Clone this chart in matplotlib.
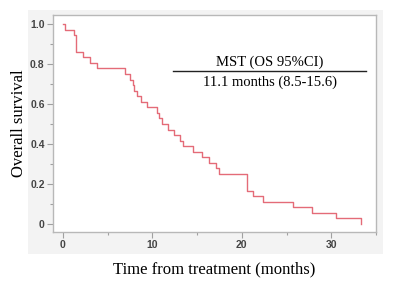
import matplotlib.pyplot as plt
from matplotlib.patches import Rectangle
from matplotlib.ticker import MultipleLocator

# Kaplan-Meier steps
months = [0, 0.2, 1.3, 1.5, 2.2, 3.0, 3.8, 6.9, 7.5, 7.8, 8.0, 8.3, 8.7,
          9.4, 10.5, 10.7, 11.1, 11.8, 12.4, 13.1, 13.4, 14.6, 15.5, 16.3,
          17.1, 17.5, 20.6, 21.2, 22.4, 25.7, 27.9, 30.5, 33.3]
survival = [1.0, 0.972, 0.944, 0.861, 0.833, 0.806, 0.778, 0.75, 0.722,
            0.694, 0.667, 0.639, 0.611, 0.583, 0.556, 0.528, 0.5, 0.472,
            0.444, 0.417, 0.389, 0.361, 0.333, 0.306, 0.278, 0.25, 0.167,
            0.139, 0.111, 0.083, 0.056, 0.028, 0.0]
y_ticks = [0, 0.2, 0.4, 0.6, 0.8, 1.0]
y_labels = ['0', '0.2', '0.4', '0.6', '0.8', '1.0']
x_ticks = [0, 10, 20, 30]

serif = 'Liberation Serif'
sans = 'Liberation Sans'

fig = plt.figure(figsize=(3.95, 2.91), dpi=100)
# light grey panel behind the plot
fig.patches.append(Rectangle((28 / 395, 1 - 254 / 291), 355 / 395, 244 / 291,
                             transform=fig.transFigure, facecolor='#f3f3f3',
                             edgecolor='none', zorder=-5))

ax = fig.add_axes([53 / 395, 1 - 232 / 291, 323 / 395, 217 / 291])
ax.set_zorder(2)
ax.set_facecolor('white')
ax.step(months, survival, where='post', color='#e46b78', lw=1.0)

ax.set_xlim(-1.1, 35)
ax.set_ylim(-0.04, 1.045)
ax.set_xticks(x_ticks)
ax.xaxis.set_minor_locator(MultipleLocator(5))
ax.set_yticks(y_ticks)
ax.set_yticklabels(y_labels)
ax.yaxis.set_minor_locator(MultipleLocator(0.1))

for s in ax.spines.values():
    s.set_color('#b8b8b8')
    s.set_linewidth(1.0)
ax.tick_params(which='both', direction='out', color='#a0a0a0', width=0.8)
ax.tick_params(which='major', length=4, labelsize=7.5, labelcolor='#444444', pad=2)
ax.tick_params(which='minor', length=2.5)
for lab in ax.get_xticklabels() + ax.get_yticklabels():
    lab.set_fontfamily(sans)
    lab.set_fontweight('bold')

ax.set_xlabel('Time from treatment (months)', fontfamily=serif, fontsize=12, labelpad=8)
ax.set_ylabel('Overall survival', fontfamily=serif, fontsize=12, labelpad=2)

# median survival table
ax.text(0.672, 0.783, 'MST (OS 95%CI)', transform=ax.transAxes, ha='center',
        va='center', fontfamily=serif, fontsize=10.5)
ax.plot([0.372, 0.97], [0.742, 0.742], transform=ax.transAxes,
        color='#222222', lw=1.0)
ax.text(0.672, 0.691, '11.1 months (8.5-15.6)', transform=ax.transAxes,
        ha='center', va='center', fontfamily=serif, fontsize=10.5)

fig.savefig('out.png', dpi=100)
